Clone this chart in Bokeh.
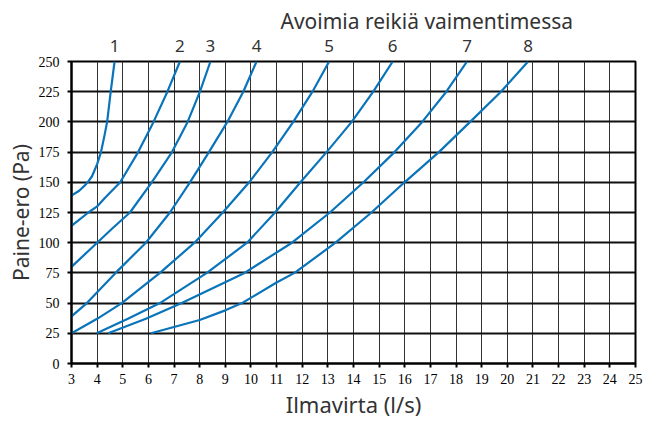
from bokeh.plotting import figure
from bokeh.models import LinearAxis, FixedTicker, Range1d
from bokeh.embed import file_html
from bokeh.resources import INLINE

# ---- data ----
curve_names = ["1", "2", "3", "4", "5", "6", "7", "8"]

c1_x = [3.0, 3.3, 3.5, 3.63, 3.8, 3.9, 4.0, 4.15, 4.27, 4.39, 4.53, 4.68]
c1_y = [139, 143, 147, 150, 155, 160, 165, 175, 187, 200, 225, 250]

c2_x = [3.0, 3.66, 4.0, 4.3, 4.9, 5.6, 6.2, 6.74, 7.23]
c2_y = [114, 125, 130, 137, 150, 175, 200, 225, 250]

c3_x = [3.0, 4.0, 4.6, 5.28, 6.13, 6.92, 7.53, 8.01, 8.42]
c3_y = [80, 100, 112, 125, 150, 175, 200, 225, 250]

c4_x = [3.0, 3.6, 4.72, 5.9, 6.84, 7.62, 8.36, 9.08, 9.7, 10.22]
c4_y = [39, 50, 75, 100, 125, 150, 175, 200, 225, 250]

c5_x = [3.0, 4.0, 4.96, 6.45, 7.8, 8.9, 9.93, 10.83, 11.65, 12.4, 13.05]
c5_y = [25, 37, 50, 75, 100, 125, 150, 175, 200, 225, 250]

c6_x = [3.98, 5.2, 6.45, 8.28, 9.85, 10.94, 11.93, 12.95, 13.93, 14.77, 15.53]
c6_y = [25, 37, 50, 75, 100, 125, 150, 175, 200, 225, 250]

c7_x = [4.43, 5.9, 7.3, 9.75, 11.6, 13.08, 14.39, 15.6, 16.68, 17.62, 18.43]
c7_y = [25, 37, 50, 75, 100, 125, 150, 175, 200, 225, 250]

c8_x = [6.1, 8.0, 9.0, 9.65, 11.0, 11.7, 13.3, 14.7, 15.99, 17.33, 18.55, 19.75, 20.81]
c8_y = [25, 36, 44, 50, 67, 75, 100, 125, 150, 175, 200, 225, 250]

x_ticks = list(range(3, 26))
y_ticks = list(range(0, 251, 25))

title_text = "Avoimia reikiä vaimentimessa"
x_label = "Ilmavirta (l/s)"
y_label = "Paine-ero (Pa)"

curves_x = [c1_x, c2_x, c3_x, c4_x, c5_x, c6_x, c7_x, c8_x]
curves_y = [c1_y, c2_y, c3_y, c4_y, c5_y, c6_y, c7_y, c8_y]

SANS = "Noto Sans"
SERIF = "Liberation Serif, serif"
BLUE = "#0a74bb"
TEXT_GREY = "#333333"

p = figure(width=655, height=421, output_backend="svg", toolbar_location=None,
           x_range=Range1d(3, 25), y_range=Range1d(0, 250),
           min_border_left=71, min_border_right=20, min_border_top=61,
           min_border_bottom=58)

p.background_fill_color = "white"
p.border_fill_color = "white"
p.outline_line_color = "black"
p.outline_line_width = 2

# title
p.title.text = title_text
p.title.align = "left"
p.title.offset = 209
p.title.standoff = 4
p.title.text_font = SANS
p.title.text_font_size = "21px"
p.title.text_font_style = "normal"
p.title.text_color = TEXT_GREY

# grids
p.xgrid.ticker = FixedTicker(ticks=x_ticks)
p.ygrid.ticker = FixedTicker(ticks=y_ticks)
p.xgrid.grid_line_color = "#333333"
p.xgrid.grid_line_width = 1
p.ygrid.grid_line_color = "#111111"
p.ygrid.grid_line_width = 2

# axes
for ax in (p.xaxis[0], p.yaxis[0]):
    ax.axis_line_color = "black"
    ax.axis_line_width = 2
    ax.major_tick_line_color = "black"
    ax.major_tick_line_width = 2
    ax.major_tick_in = 0
    ax.major_tick_out = 4
    ax.minor_tick_line_color = None
    ax.major_label_text_font = SERIF
    ax.major_label_text_font_size = "14px"
    ax.major_label_text_color = "black"
    ax.axis_label_text_font = SANS
    ax.axis_label_text_font_size = "21px"
    ax.axis_label_text_font_style = "normal"
    ax.axis_label_text_color = TEXT_GREY

p.xaxis[0].ticker = FixedTicker(ticks=x_ticks)
p.yaxis[0].ticker = FixedTicker(ticks=y_ticks)
p.xaxis[0].axis_label = x_label
p.yaxis[0].axis_label = y_label
p.xaxis[0].axis_label_text_font_size = "22px"
p.xaxis[0].major_label_standoff = 6
p.yaxis[0].major_label_standoff = 8
p.xaxis[0].axis_label_standoff = 2
p.yaxis[0].axis_label_standoff = 1

# top axis with curve numbers at curve ends
top_ticks = [cx[-1] for cx in curves_x]
top = LinearAxis(ticker=FixedTicker(ticks=top_ticks),
                 major_label_overrides={t: n for t, n in zip(top_ticks, curve_names)})
top.axis_line_color = None
top.major_tick_line_color = None
top.minor_tick_line_color = None
top.major_label_text_font = SANS
top.major_label_text_font_size = "17px"
top.major_label_text_color = TEXT_GREY
top.major_label_standoff = 4
p.add_layout(top, "above")

for cx, cy in zip(curves_x, curves_y):
    p.line(cx, cy, line_color=BLUE, line_width=2.2)

open("out.html", "w").write(file_html(p, INLINE))
